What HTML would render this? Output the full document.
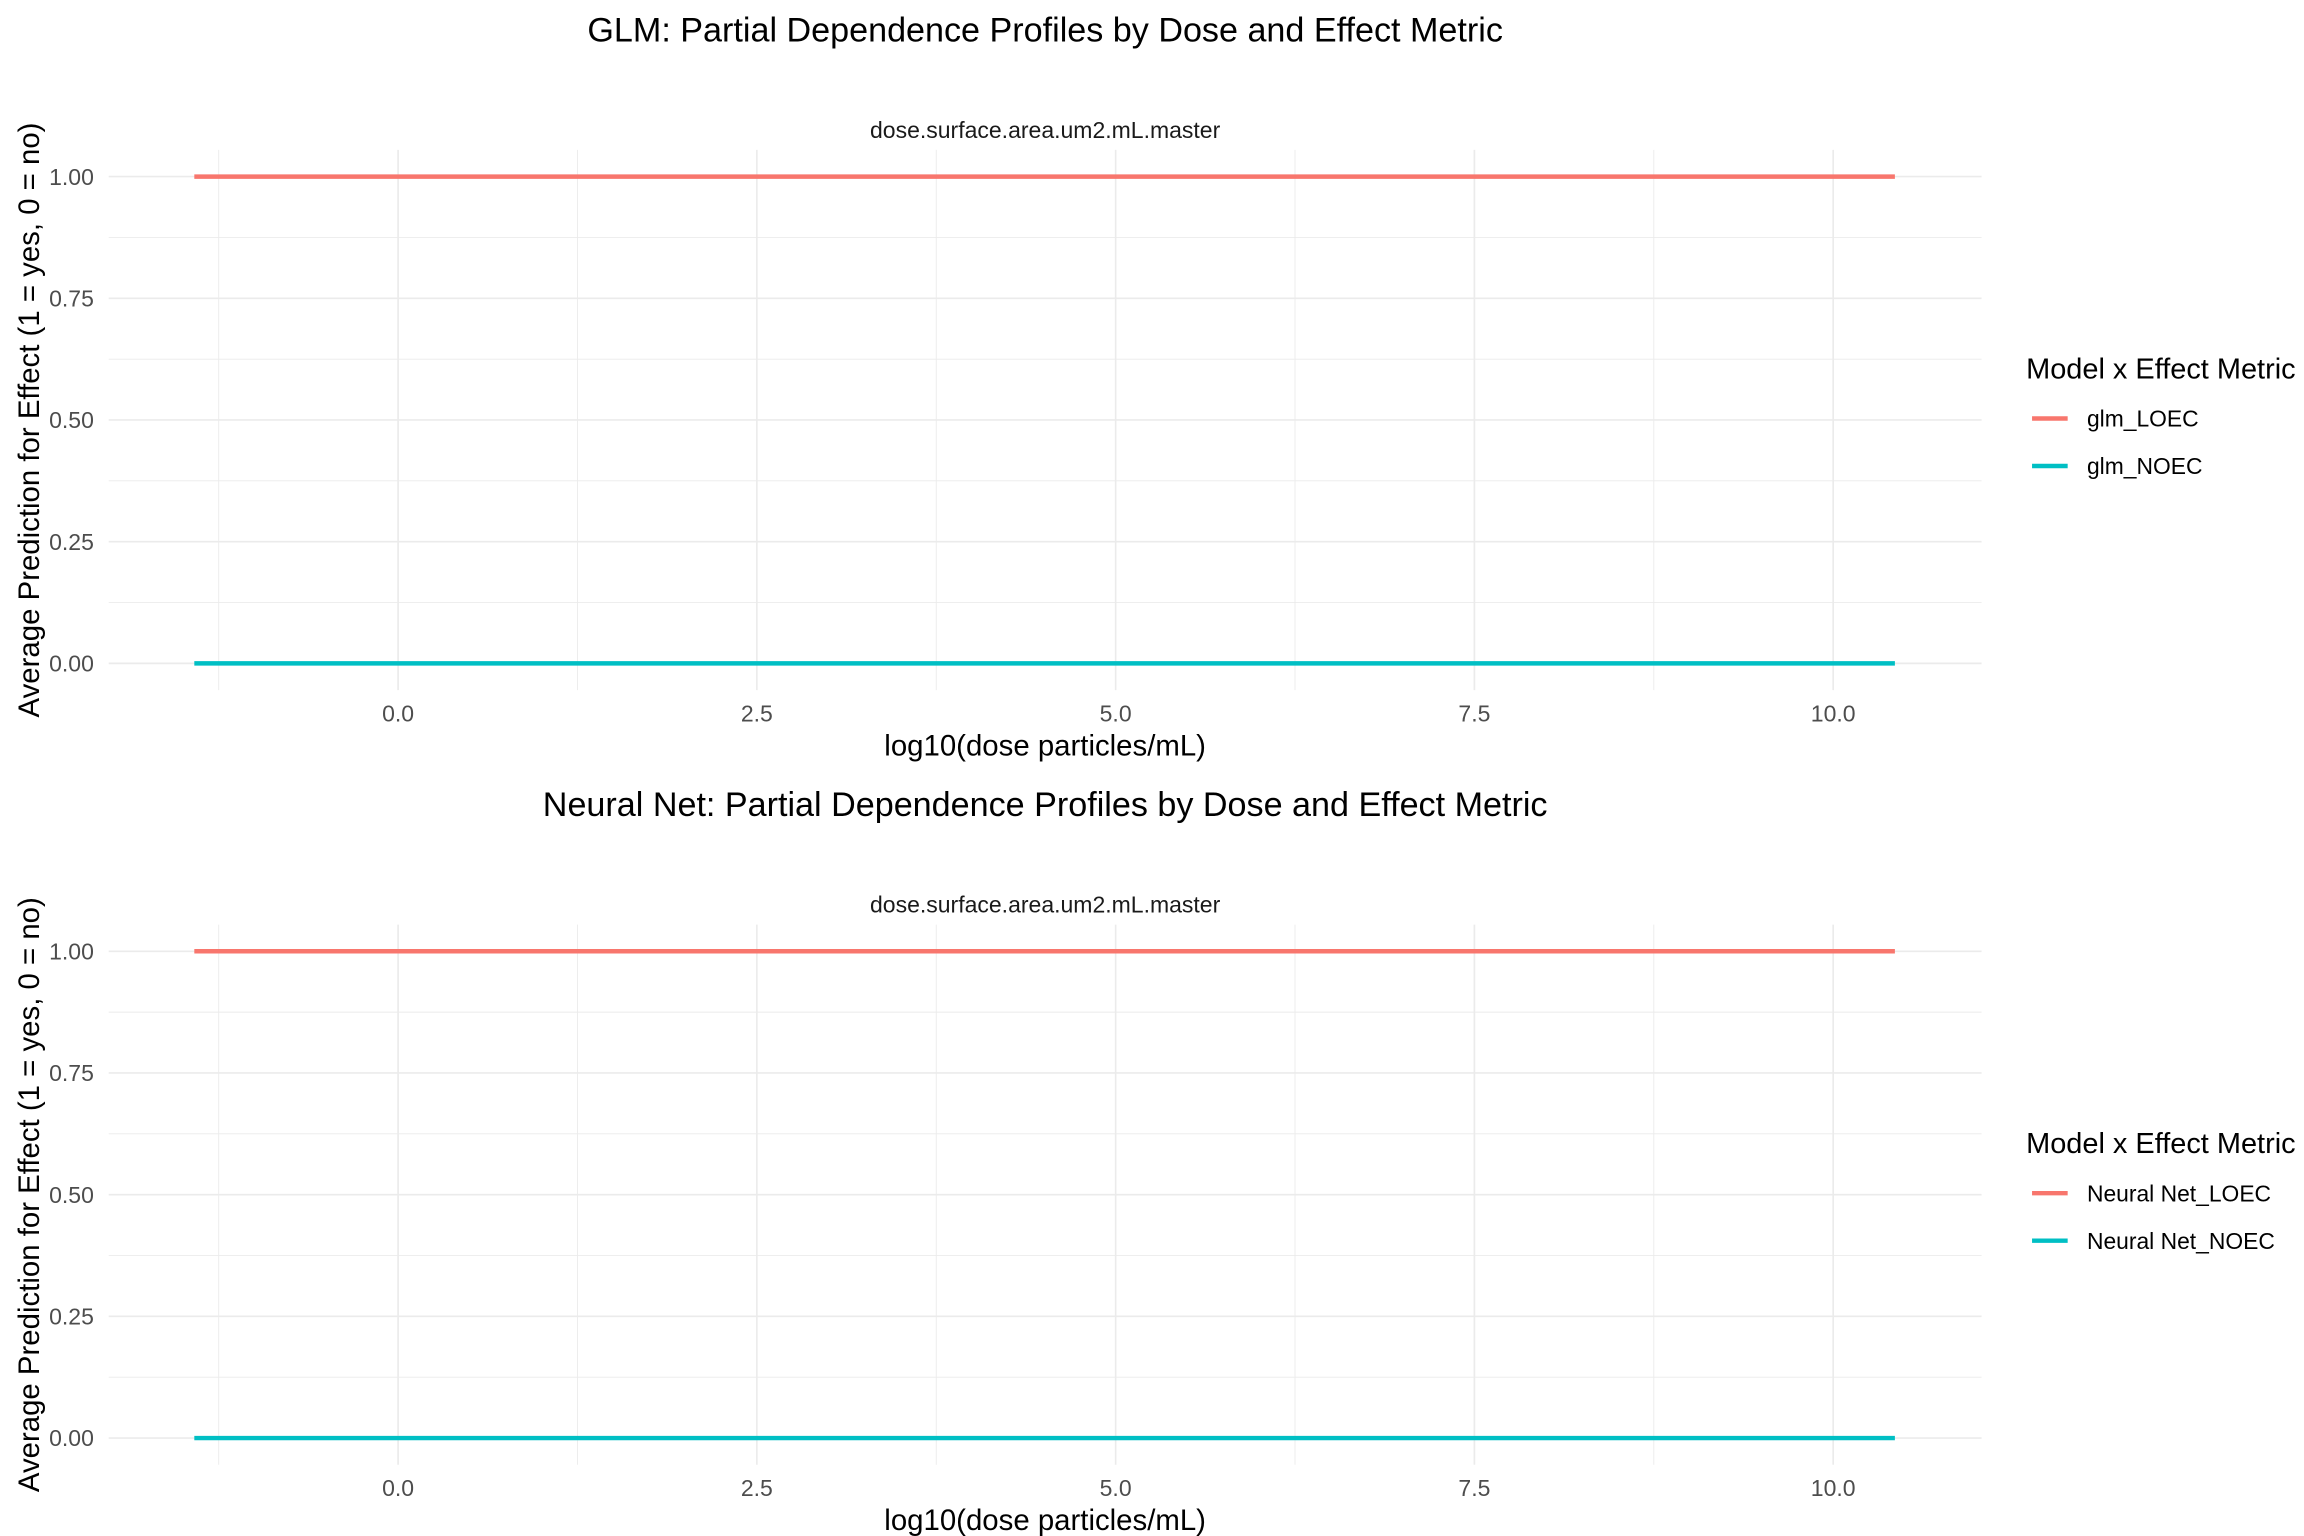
<!DOCTYPE html>
<html><head><meta charset="utf-8"><style>html,body{margin:0;padding:0;background:#fff}svg{display:block}text{font-family:"Liberation Sans",sans-serif}</style></head>
<body>
<svg id="chart" width="2304" height="1536" viewBox="0 0 1552 1035" xmlns="http://www.w3.org/2000/svg"></svg>
<script>
const xTicks = [0, 2.5, 5, 7.5, 10];
const xTickLabels = ["0.0", "2.5", "5.0", "7.5", "10.0"];
const yTicks = [0, 0.25, 0.5, 0.75, 1];
const yTickLabels = ["0.00", "0.25", "0.50", "0.75", "1.00"];
const doseRange = [-1.42, 10.43];
const glmLOEC = [1, 1];
const glmNOEC = [0, 0];
const nnLOEC = [1, 1];
const nnNOEC = [0, 0];
const panelTitles = ["GLM: Partial Dependence Profiles by Dose and Effect Metric", "Neural Net: Partial Dependence Profiles by Dose and Effect Metric"];
const legendLabels = [["glm_LOEC", "glm_NOEC"], ["Neural Net_LOEC", "Neural Net_NOEC"]];

const svg = document.getElementById('chart');
const NS = 'http://www.w3.org/2000/svg';
function mk(tag, attrs, parent) {
  const e = document.createElementNS(NS, tag);
  for (const k in attrs) e.setAttribute(k, attrs[k]);
  (parent || svg).appendChild(e);
  return e;
}
const xs = v => 268 + (v - 0) * (1235 - 268) / 10;
const COLORS = ['#F8766D', '#00BFC4'];

function panel(idx, off, series) {
  const g = mk('g', {});
  
  
  const ys = v => off + 447 - v * 328;
  const top = off + 101, bot = off + 465;
  for (let i = 0; i < yTicks.length - 1; i++) {
    const y = ys((yTicks[i] + yTicks[i + 1]) / 2);
    mk('line', {x1: 73, x2: 1335, y1: y, y2: y, stroke: '#ebebeb', 'stroke-width': 0.6}, g);
  }
  const minorX = [-1.25, 1.25, 3.75, 6.25, 8.75];
  minorX.forEach(v => mk('line', {x1: xs(v), x2: xs(v), y1: top, y2: bot, stroke: '#ebebeb', 'stroke-width': 0.6}, g));
  yTicks.forEach((v, i) => {
    mk('line', {x1: 73, x2: 1335, y1: ys(v), y2: ys(v), stroke: '#ebebeb', 'stroke-width': 1.1}, g);
    const t = mk('text', {x: 63, y: ys(v) + 5.5, 'text-anchor': 'end', 'font-size': 15.5, fill: '#4d4d4d'}, g);
    
    
    t.textContent = yTickLabels[i];
  });
  xTicks.forEach((v, i) => {
    mk('line', {x1: xs(v), x2: xs(v), y1: top, y2: bot, stroke: '#ebebeb', 'stroke-width': 1.1}, g);
    const t = mk('text', {x: xs(v), y: off + 486, 'text-anchor': 'middle', 'font-size': 15.5, fill: '#4d4d4d'}, g);
    
    
    t.textContent = xTickLabels[i];
  });
  series.forEach((s, i) => {
    const l = mk('line', {x1: xs(doseRange[0]), x2: xs(doseRange[1]), y1: ys(s[0]), y2: ys(s[1]), stroke: COLORS[i], 'stroke-width': 3}, g);
    
    
  });
  const title = mk('text', {x: 704, y: off + 28, 'text-anchor': 'middle', 'font-size': 23, fill: '#000'}, g);
  
  
  title.textContent = panelTitles[idx];
  const strip = mk('text', {x: 704, y: off + 93, 'text-anchor': 'middle', 'font-size': 15.5, fill: '#1a1a1a'}, g);
  
  
  strip.textContent = 'dose.surface.area.um2.mL.master';
  const xt = mk('text', {x: 704, y: off + 509, 'text-anchor': 'middle', 'font-size': 19.8, fill: '#000'}, g);
  
  
  xt.textContent = 'log10(dose particles/mL)';
  const yt = mk('text', {x: 0, y: 0, 'text-anchor': 'middle', 'font-size': 19.8, fill: '#000', transform: `translate(26,${off + 283}) rotate(-90)`}, g);
  
  
  yt.textContent = 'Average Prediction for Effect (1 = yes, 0 = no)';
  const lg = mk('g', {}, g);
  
  
  const lt = mk('text', {x: 1365, y: off + 255, 'font-size': 19.5, fill: '#000'}, lg);
  
  
  lt.textContent = 'Model x Effect Metric';
  legendLabels[idx].forEach((lab, i) => {
    const y = off + 282 + i * 32;
    const k = mk('line', {x1: 1369, x2: 1393, y1: y, y2: y, stroke: COLORS[i], 'stroke-width': 3}, lg);
    
    
    const t = mk('text', {x: 1406, y: y + 5.5, 'font-size': 15.4, fill: '#000'}, lg);
    
    
    t.textContent = lab;
  });
}
panel(0, 0, [glmLOEC, glmNOEC]);
panel(1, 522, [nnLOEC, nnNOEC]);
</script>
</body></html>
